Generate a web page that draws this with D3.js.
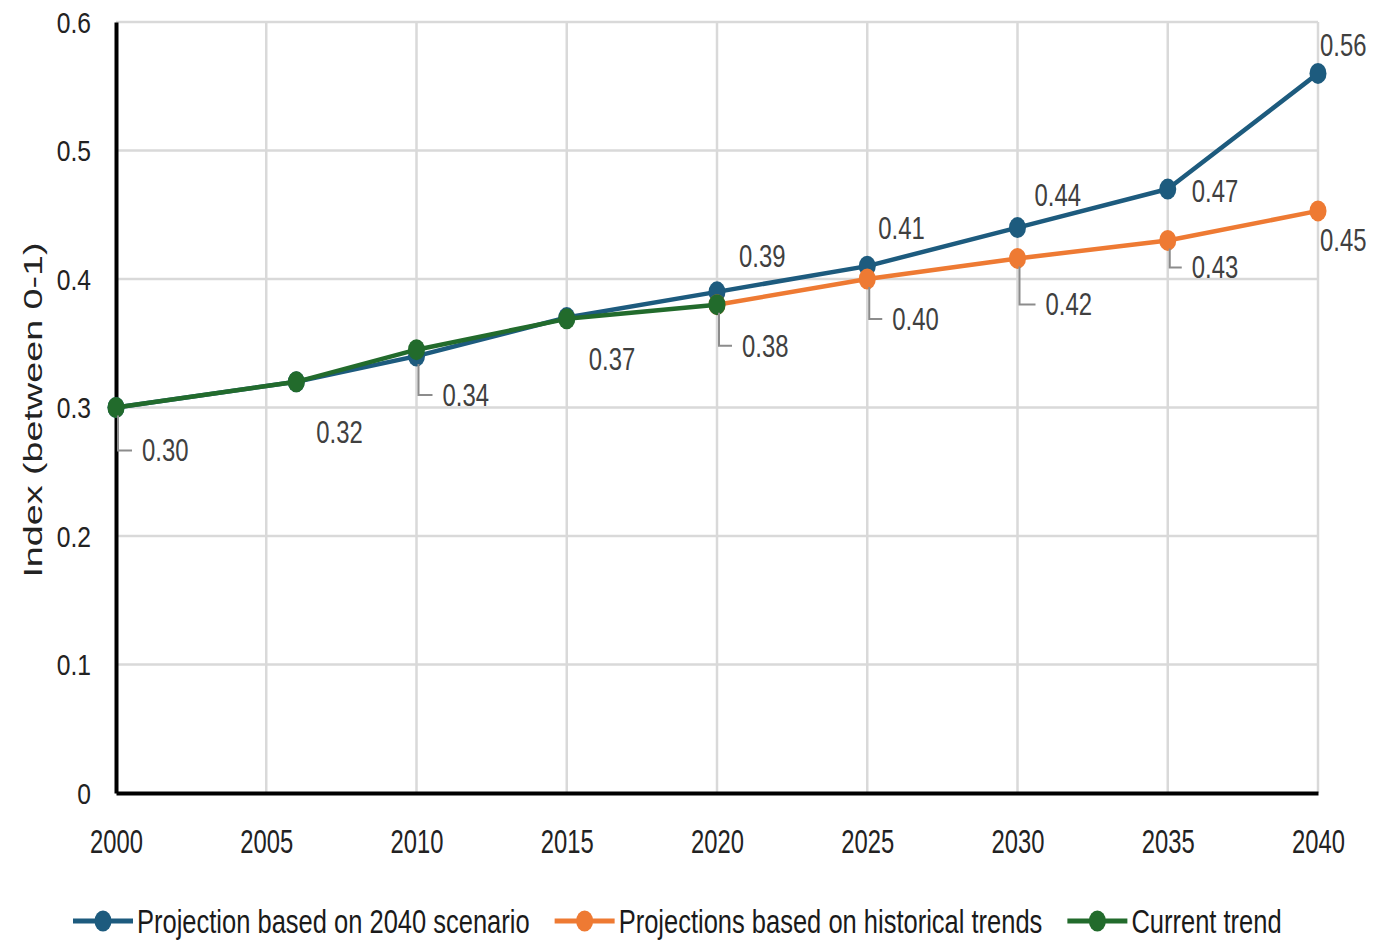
<!DOCTYPE html>
<html>
<head>
<meta charset="utf-8">
<script src="https://cdn.jsdelivr.net/npm/d3@7"></script>
<style>
  body { margin: 0; background: #fff; }
  svg { display: block; }
  text { font-family: "Liberation Sans", Arial, sans-serif; }
</style>
</head>
<body>
<div id="chart"></div>
<script>
// Data
const years = [2000, 2006, 2010, 2015, 2020, 2025, 2030, 2035, 2040];
const scenario2040 = [0.30, 0.32, 0.34, 0.37, 0.39, 0.41, 0.44, 0.47, 0.56];
const historical = [null, null, null, null, 0.38, 0.40, 0.416, 0.43, 0.453];
const currentTrend = [0.30, 0.32, 0.345, 0.369, 0.38, null, null, null, null];
const xTicks = [2000, 2005, 2010, 2015, 2020, 2025, 2030, 2035, 2040];
const yTicks = [0, 0.1, 0.2, 0.3, 0.4, 0.5, 0.6];
const seriesNames = ["Projection based on 2040 scenario", "Projections based on historical trends", "Current trend"];

// label placement (offset from point, leader line or not)
const scenarioLabelPos = [[26, 43, true], [20, 50, false], [26, 39, true], [22, 42, false], [22, -36, false],
                          [11, -38, false], [17, -32, false], [24, 2, false], [2, -28, false]];
const historicalLabelPos = [null, null, null, null, [25, 41, true], [25, 40, true], [28, 46, true], [24, 27, true], [2, 29, false]];

const colors = ["#1d5b7e", "#ee7a33", "#226b2c"];

let width = 1375, height = 943;
let svg = d3.select("#chart").append("svg")
  .attr("width", width)
  .attr("height", height);

let x = d3.scaleLinear().domain([2000, 2040]).range([116, 1318]);
let y = d3.scaleLinear().domain([0, 0.6]).range([793, 22]);

// gridlines
svg.append("g").selectAll("line")
  .data(yTicks.filter(d => d > 0))
  .join("line")
  .attr("x1", x(2000)).attr("x2", x(2040))
  .attr("y1", d => y(d)).attr("y2", d => y(d))
  .attr("stroke", "#d9d9d9").attr("stroke-width", 2.5);

svg.append("g").selectAll("line")
  .data(xTicks.filter(d => d > 2000))
  .join("line")
  .attr("x1", d => x(d)).attr("x2", d => x(d))
  .attr("y1", y(0.6)).attr("y2", y(0))
  .attr("stroke", "#d9d9d9").attr("stroke-width", 2.5);

// axes
let xAxis = svg.append("g")
  .attr("transform", "translate(0," + y(0) + ")")
  .call(d3.axisBottom(x).tickValues(xTicks).tickFormat(d3.format("d")).tickSize(0).tickPadding(0));
xAxis.select(".domain").attr("stroke", "#000").attr("stroke-width", 4);
xAxis.selectAll("text")
  .attr("y", 60).attr("dy", 0)
  .attr("transform", "scale(0.7,1)")
  .style("font-size", "34px").style("fill", "#222");

let yAxis = svg.append("g")
  .attr("transform", "translate(" + x(2000) + ",0)")
  .call(d3.axisLeft(y).tickValues(yTicks).tickFormat(d => d === 0 ? "0" : d3.format(".1f")(d)).tickSize(0).tickPadding(0));
yAxis.select(".domain").attr("stroke", "#000").attr("stroke-width", 4);
yAxis.selectAll("text")
  .attr("x", -25 / 0.85).attr("dy", "0.35em")
  .attr("transform", "scale(0.85,1)")
  .style("font-size", "29px").style("fill", "#222");

// y axis title
svg.append("text")
  .attr("transform", "translate(42,410) rotate(-90) scale(1.45,1)")
  .attr("text-anchor", "middle")
  .style("font-size", "26px")
  .style("fill", "#222")
  .text("Index (between 0-1)");

// lines and markers
let series = [scenario2040, historical, currentTrend];
let line = d3.line()
  .defined(d => d[1] !== null)
  .x(d => x(d[0]))
  .y(d => y(d[1]));

series.forEach((vals, i) => {
  let pts = years.map((yr, j) => [yr, vals[j]]);
  let g = svg.append("g");
  g.append("path")
    .datum(pts)
    .attr("d", line)
    .attr("fill", "none")
    .attr("stroke", colors[i])
    .attr("stroke-width", 4.5)
    .attr("stroke-linejoin", "round");
  g.selectAll("ellipse")
    .data(pts.filter(d => d[1] !== null))
    .join("ellipse")
    .attr("cx", d => x(d[0]))
    .attr("cy", d => y(d[1]))
    .attr("rx", 8.5)
    .attr("ry", 10.5)
    .attr("fill", colors[i]);
});

// data labels
function drawLabels(vals, pos) {
  let g = svg.append("g");
  vals.forEach((v, j) => {
    if (v === null || !pos[j]) return;
    let px = x(years[j]), py = y(v);
    let [dx, dy, leader] = pos[j];
    if (leader) {
      g.append("path")
        .attr("d", "M" + (px + 2) + "," + (py + 8) + "V" + (py + dy) + "H" + (px + dx - 10))
        .attr("fill", "none")
        .attr("stroke", "#8c8c8c")
        .attr("stroke-width", 2);
    }
    g.append("text")
      .attr("transform", "translate(" + (px + dx) + "," + (py + dy) + ") scale(0.77,1)")
      .attr("dy", "0.35em")
      .style("font-size", "31px")
      .style("fill", "#404040")
      .text(v.toFixed(2));
  });
}
drawLabels(scenario2040, scenarioLabelPos);
drawLabels(historical, historicalLabelPos);

// legend
let legend = svg.append("g").attr("transform", "translate(73,921)");
let lx = 0;
seriesNames.forEach((name, i) => {
  let item = legend.append("g").attr("transform", "translate(" + lx + ",0)");
  item.append("line")
    .attr("x1", 0).attr("x2", 60)
    .attr("y1", 0).attr("y2", 0)
    .attr("stroke", colors[i]).attr("stroke-width", 5);
  item.append("ellipse")
    .attr("cx", 30).attr("cy", 0)
    .attr("rx", 8.5).attr("ry", 10.5)
    .attr("fill", colors[i]);
  let t = item.append("text")
    .attr("transform", "translate(64,12) scale(0.75,1)")
    .style("font-size", "34px")
    .style("fill", "#1a1a1a")
    .text(name);
  lx += 64 + t.node().getComputedTextLength() * 0.75 + 25;
});
</script>
</body>
</html>
